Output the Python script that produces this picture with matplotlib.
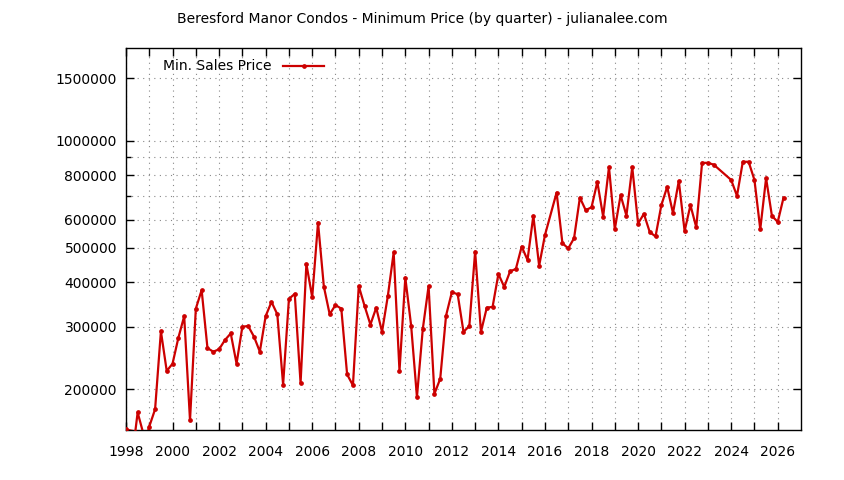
import matplotlib
matplotlib.use("Agg")
import matplotlib.pyplot as plt
from matplotlib.ticker import FixedLocator, FixedFormatter, NullFormatter

# quarterly minimum prices
quarters = [
    1998.0, 1998.4, 1998.5, 1998.83, 1999.0, 1999.25, 1999.5, 1999.75,
    2000.0, 2000.25, 2000.5, 2000.75, 2001.0, 2001.25, 2001.5, 2001.75,
    2002.0, 2002.25, 2002.5, 2002.75, 2003.0, 2003.25, 2003.5, 2003.75,
    2004.0, 2004.25, 2004.5, 2004.75, 2005.0, 2005.25, 2005.5, 2005.75,
    2006.0, 2006.25, 2006.5, 2006.75, 2007.0, 2007.25, 2007.5, 2007.75,
    2008.0, 2008.25, 2008.5, 2008.75, 2009.0, 2009.25, 2009.5, 2009.75,
    2010.0, 2010.25, 2010.5, 2010.75, 2011.0, 2011.25, 2011.5, 2011.75,
    2012.0, 2012.25, 2012.5, 2012.75, 2013.0, 2013.25, 2013.5, 2013.75,
    2014.0, 2014.25, 2014.5, 2014.75, 2015.0, 2015.25, 2015.5, 2015.75,
    2016.0, 2016.5, 2016.75, 2017.0, 2017.25, 2017.5, 2017.75,
    2018.0, 2018.25, 2018.5, 2018.75, 2019.0, 2019.25, 2019.5, 2019.75,
    2020.0, 2020.25, 2020.5, 2020.75, 2021.0, 2021.25, 2021.5, 2021.75,
    2022.0, 2022.25, 2022.5, 2022.75, 2023.0, 2023.25,
    2024.0, 2024.25, 2024.5, 2024.75, 2025.0, 2025.25, 2025.5, 2025.75,
    2026.0, 2026.25,
]
min_price = [
    154000, 152000, 172000, 143000, 157000, 175600, 291000, 225000,
    236000, 279000, 321000, 163600, 337000, 380000, 261000, 255000,
    259000, 275000, 287000, 236000, 300000, 301000, 281000, 255000,
    321000, 352000, 325000, 206000, 359000, 371000, 208000, 450000,
    363000, 589000, 389000, 325000, 345000, 337000, 220000, 205000,
    390000, 343000, 304000, 339000, 290000, 366000, 485000, 225000,
    412000, 302000, 190000, 295000, 390000, 194000, 214000, 322000,
    375000, 370000, 290000, 301000, 488000, 290000, 339000, 341000,
    422000, 388000, 429000, 436000, 504000, 462000, 615000, 445000,
    543000, 715000, 515000, 498000, 532000, 692000, 638000,
    650000, 766000, 612000, 843000, 564000, 703000, 616000, 843000,
    585000, 623000, 554000, 538000, 659000, 742000, 626000, 771000,
    557000, 659000, 571000, 867000, 867000, 857000,
    776000, 700000, 873000, 873000, 776000, 564000, 785000, 615000,
    591000, 692000,
]

title = "Beresford Manor Condos - Minimum Price (by quarter) - julianalee.com"
series_name = "Min. Sales Price"
y_major = [200000, 300000, 400000, 500000, 600000, 800000, 1000000, 1500000]
y_minor = [700000, 900000]
x_years = list(range(1998, 2027))

plt.rcParams["font.family"] = ["DejaVu Sans"]
plt.rcParams["font.size"] = 10

fig = plt.figure(figsize=(8.44, 4.8), dpi=100, facecolor="w")
ax = fig.add_axes([126 / 844, 1 - 430 / 480, (801 - 126) / 844, (430 - 48) / 480])

ax.plot(quarters, min_price, color="#cc0000", lw=1.6, marker="o", ms=2.4,
        label=series_name, zorder=3)

ax.set_yscale("log")
ax.set_ylim(153500, 1825000)
ax.set_xlim(1998, 2027)

ax.yaxis.set_major_locator(FixedLocator(y_major))
ax.yaxis.set_major_formatter(FixedFormatter([str(v) for v in y_major]))
ax.yaxis.set_minor_locator(FixedLocator(y_minor))
ax.yaxis.set_minor_formatter(NullFormatter())

ax.set_xticks(x_years)
ax.set_xticklabels([str(y) if y % 2 == 0 else "" for y in x_years])

ax.tick_params(which="both", direction="in", top=True, right=True, width=1)
ax.tick_params(which="major", length=6)
ax.tick_params(which="minor", length=3.5)
ax.tick_params(axis="y", pad=6.5)
ax.tick_params(axis="x", pad=11)

ax.grid(True, which="both", color="#888888", lw=0.8, ls=(0, (1, 4)))
for s in ax.spines.values():
    s.set_linewidth(1)

fig.text(0.5, 1 - 19 / 480, title, ha="center", va="center")

ax.legend(loc="upper left", bbox_to_anchor=(0.055, 0.97), frameon=False,
          markerfirst=False, handlelength=3.0, borderpad=0, borderaxespad=0,
          handletextpad=0.8)

plt.savefig("out.png", dpi=100)
